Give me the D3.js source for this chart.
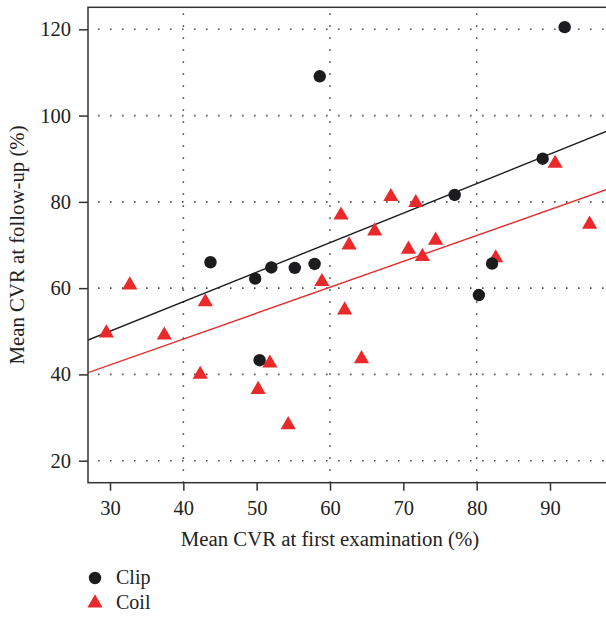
<!DOCTYPE html>
<html>
<head>
<meta charset="utf-8">
<script src="https://cdn.jsdelivr.net/npm/d3@7/dist/d3.min.js"></script>
<style>
  html, body { margin: 0; padding: 0; background: #fff; }
  svg { display: block; }
  text { font-family: "Liberation Serif", "DejaVu Serif", serif; fill: #222; }
</style>
</head>
<body>
<svg id="chart" width="606" height="618"></svg>
<script>
// ---- data ----
const clipX = [92.0, 58.6, 89.0, 77.0, 43.7, 49.8, 52.0, 55.2, 57.9, 50.4, 80.3, 82.1];
const clipY = [120.5, 109.1, 90.0, 81.6, 66.0, 62.2, 64.8, 64.7, 65.6, 43.3, 58.4, 65.7];

const coilX = [29.5, 32.7, 37.4, 42.3, 43.0, 50.2, 51.8, 54.3, 58.9, 61.5, 62.0, 62.6, 64.3, 66.1, 68.3, 70.7, 71.7, 72.6, 74.4, 82.6, 90.7, 95.4];
const coilY = [49.6, 60.7, 49.1, 40.0, 56.8, 36.5, 42.6, 28.3, 61.5, 76.9, 54.9, 70.0, 43.6, 73.2, 81.2, 69.0, 79.8, 67.3, 71.1, 67.0, 88.9, 74.8];

// fitted regression lines: [intercept, slope]
const clipFit = [29.5, 0.684];
const coilFit = [24.2, 0.600];

const xTicks = [30, 40, 50, 60, 70, 80, 90];
const yTicks = [20, 40, 60, 80, 100, 120];
const xGrid = [40, 60, 80];

const seriesNames = ["Clip", "Coil"];
const seriesColors = ["#1c1c1e", "#ea2a2a"];

// ---- layout ----
const svg = d3.select("#chart");
const L = 88, T = 7.3, B = 482.7;
const x = d3.scaleLinear().domain([27, 98]).range([L, L + 71 * 7.3333]);
const y = d3.scaleLinear().domain([14.9, 125.1]).range([B, T]);
const R = x.range()[1];

svg.append("defs").append("clipPath").attr("id", "plotclip")
  .append("rect").attr("x", L).attr("y", T).attr("width", R - L).attr("height", B - T);

// grid
const grid = svg.append("g").attr("stroke", "#555").attr("stroke-width", 1.6)
  .attr("stroke-dasharray", "1.6,10.4").attr("fill", "none");
grid.selectAll("line.h").data(yTicks).join("line").attr("class", "h")
  .attr("x1", L + 10).attr("x2", R).attr("y1", d => y(d)).attr("y2", d => y(d));
grid.selectAll("line.v").data(xGrid).join("line").attr("class", "v")
  .attr("y1", T + 6).attr("y2", B).attr("x1", d => x(d)).attr("x2", d => x(d));

// regression lines
const plot = svg.append("g").attr("clip-path", "url(#plotclip)");
[clipFit, coilFit].forEach((f, i) => {
  const dom = x.domain();
  plot.append("line")
    .attr("x1", x(dom[0])).attr("y1", y(f[0] + f[1] * dom[0]))
    .attr("x2", x(dom[1])).attr("y2", y(f[0] + f[1] * dom[1]))
    .attr("stroke", seriesColors[i]).attr("stroke-width", 1.4);
});

// points
const clipData = clipX.map((v, i) => [v, clipY[i]]);
const coilData = coilX.map((v, i) => [v, coilY[i]]);
const tri = d3.symbol().type(d3.symbolTriangle).size(100);
plot.selectAll("path.coil").data(coilData).join("path").attr("class", "coil")
  .attr("d", tri).attr("transform", d => `translate(${x(d[0])},${y(d[1])})`)
  .attr("fill", seriesColors[1]);
plot.selectAll("circle.clip").data(clipData).join("circle").attr("class", "clip")
  .attr("cx", d => x(d[0])).attr("cy", d => y(d[1])).attr("r", 6.2)
  .attr("fill", seriesColors[0]);

// frame
svg.append("rect").attr("x", L).attr("y", T).attr("width", R - L + 5).attr("height", B - T)
  .attr("fill", "none").attr("stroke", "#333").attr("stroke-width", 1.5);

// axes
const xAxis = svg.append("g").attr("transform", `translate(0,${B})`)
  .call(d3.axisBottom(x).tickValues(xTicks).tickSize(8).tickPadding(10).tickFormat(d3.format("d")));
const yAxis = svg.append("g").attr("transform", `translate(${L},0)`)
  .call(d3.axisLeft(y).tickValues(yTicks).tickSize(9).tickPadding(8).tickFormat(d3.format("d")));
[xAxis, yAxis].forEach(g => {
  g.select(".domain").remove();
  g.selectAll(".tick line").attr("stroke", "#333").attr("stroke-width", 1.5);
  g.selectAll(".tick text").attr("font-size", 20.5).attr("fill", "#222")
    .attr("font-family", "Liberation Serif, serif");
});

// titles
svg.append("text").attr("x", 330).attr("y", 546).attr("text-anchor", "middle")
  .attr("font-size", 20.8).text("Mean CVR at first examination (%)");
svg.append("text").attr("transform", `translate(24,${(T + B) / 2}) rotate(-90)`)
  .attr("text-anchor", "middle").attr("font-size", 20.8).text("Mean CVR at follow-up (%)");

// legend
const leg = svg.append("g");
leg.append("circle").attr("cx", 95).attr("cy", 578).attr("r", 6.2).attr("fill", seriesColors[0]);
leg.append("path").attr("d", tri).attr("transform", "translate(95,603)").attr("fill", seriesColors[1]);
seriesNames.forEach((n, i) => {
  leg.append("text").attr("x", 116).attr("y", 584 + i * 25).attr("font-size", 20).text(n);
});
</script>
</body>
</html>
